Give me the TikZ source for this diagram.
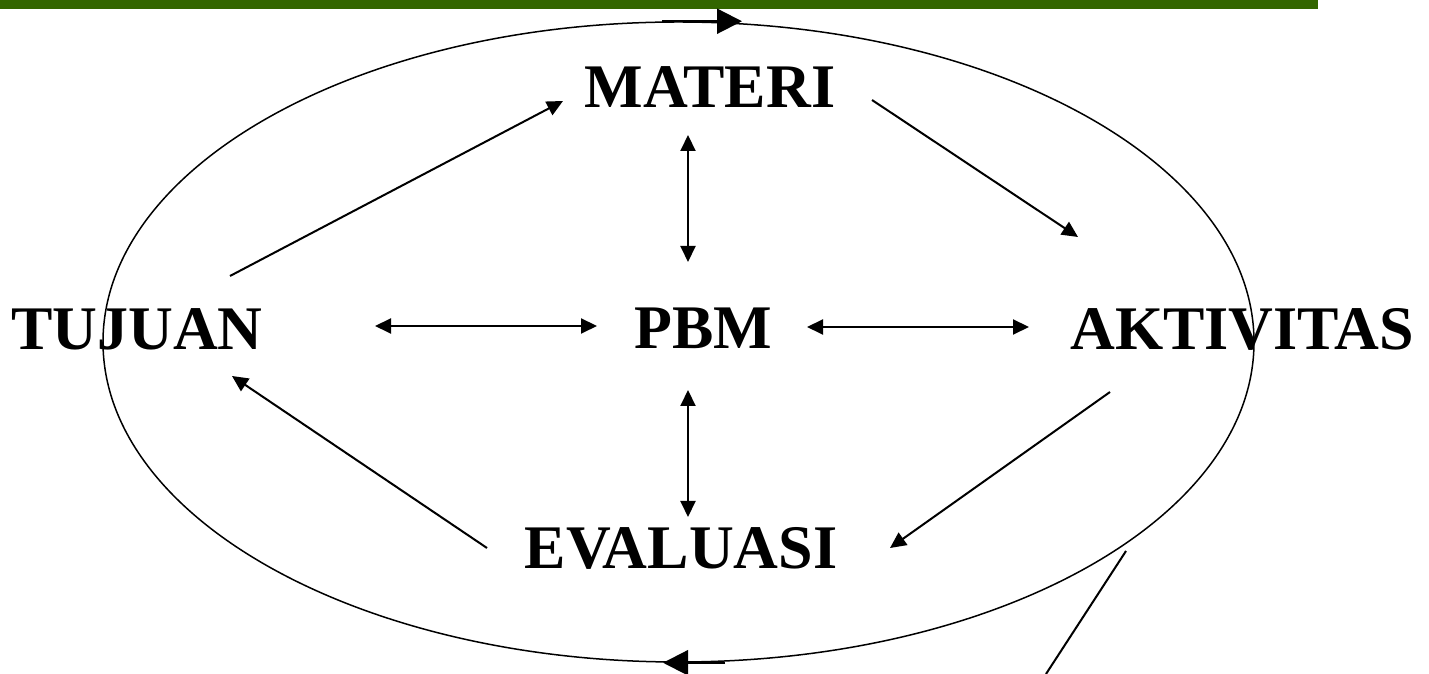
\documentclass[tikz,border=0pt]{standalone}
\usepackage{fontspec}
\setmainfont{Liberation Serif}
\usepackage{xcolor}
\usetikzlibrary{arrows.meta,shapes.geometric}
\definecolor{d_green}{HTML}{336600}

\begin{document}
\begin{tikzpicture}[x=1pt,y=1pt,
  teks/.style={anchor=base,inner sep=0pt,font=\fontsize{62}{70}\selectfont\bfseries},
  panah/.style={line width=2pt,-{Triangle[length=16pt,width=15pt]}},
  duapanah/.style={line width=2pt,{Triangle[length=16pt,width=15pt]}-{Triangle[length=16pt,width=15pt]}},
  panahbesar/.style={line width=2.2pt,-{Triangle[length=25pt,width=25pt]}}]
\useasboundingbox (0,0) rectangle (1429,674);

\fill[d_green] (0,665) rectangle (1318,674);

\node[draw,ellipse,line width=1.5pt,minimum width=1151pt,minimum height=640pt,inner sep=0pt] (siklus) at (678.5,332) {};

\node[teks] (materi) at (710,566) {MATERI};
\node[teks] (pbm) at (703,325) {PBM};
\node[teks] (tujuan) at (137,324) {TUJUAN};
\node[teks] (aktivitas) at (1242,324) {AKTIVITAS};
\node[teks] (evaluasi) at (681,105) {EVALUASI};

\draw[panah] ([shift={(93,74)}]tujuan.base) -- ([shift={(-147,7)}]materi.base);
\draw[panah] ([shift={(162,8)}]materi.base) -- ([shift={(-164,113)}]aktivitas.base);
\draw[panah] ([shift={(-132,-42)}]aktivitas.base) -- ([shift={(209,21)}]evaluasi.base);
\draw[panah] ([shift={(-194,21)}]evaluasi.base) -- ([shift={(95,-26)}]tujuan.base);

\draw[duapanah] ([shift={(-22,-27)}]materi.base) -- ([shift={(-15,87)}]pbm.base);
\draw[duapanah] ([shift={(-15,-41)}]pbm.base) -- ([shift={(7,52)}]evaluasi.base);
\draw[duapanah] ([shift={(238,24)}]tujuan.base) -- ([shift={(-106,23)}]pbm.base);
\draw[duapanah] ([shift={(104,22)}]pbm.base) -- ([shift={(-213,23)}]aktivitas.base);

\draw[panahbesar] ([xshift=-16.5pt]siklus.north) -- ([xshift=63.5pt]siklus.north);
\draw[panahbesar] ([xshift=46.5pt]siklus.south) -- ([xshift=-15.5pt]siklus.south);

\coordinate (ujung) at (1046,0);
\draw[line width=2pt] ([shift={(447.5,-209)}]siklus.center) -- (ujung);

\end{tikzpicture}
\end{document}
